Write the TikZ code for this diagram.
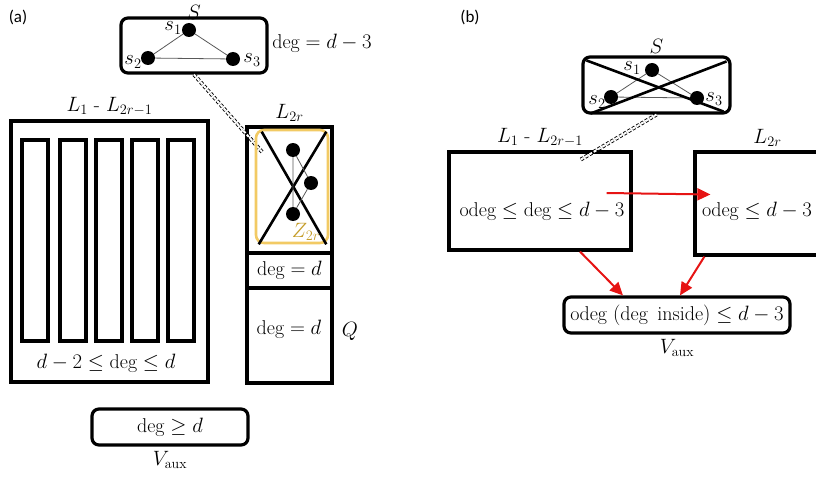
\documentclass[tikz,border=0pt]{standalone}
\usepackage{amsmath, amssymb}
\usepackage{fontspec}
\newfontfamily\panelfont{Carlito}
\usepackage{xcolor}
\definecolor{zgold}{RGB}{242,202,100}
\definecolor{zlabel}{RGB}{196,156,40}
\definecolor{flowred}{RGB}{230,20,20}
\usepackage{tikz}
\usetikzlibrary{arrows.meta}
\usetikzlibrary{positioning,fit}

\tikzset{
    frame/.style={draw, line width=3.2pt, inner sep=0pt},
    roundframe/.style={frame, rounded corners=7pt},
    vertex/.style={circle, fill, inner sep=0pt, minimum size=14pt},
    thinedge/.style={line width=0.8pt, black!65},
    cross/.style={line width=2.6pt},
    link/.style={double, double distance=2pt, line width=0.9pt, dash pattern=on 3pt off 2pt},
    flow/.style={-{Triangle[length=13pt,width=12pt]}, draw=flowred, line width=2pt},
    tag/.style={font=\panelfont\fontsize{17}{20}\selectfont}
}

\begin{document}
\begin{tikzpicture}[x=1pt,y=-1pt,font=\fontsize{20}{24}\selectfont]
    \useasboundingbox (0,0) rectangle (816,484);

    % (a)
    \node[tag] (tagA) at (18,17) {(a)};
    \node[roundframe, fit={(121,18) (267,73)}] (Sa) {};
    \node[above=-5pt of Sa, inner sep=2pt] (SaLab) {$S$};
    \node (degS) at (322,43) {$\deg = d - 3$};
    \node[vertex] (s1a) at (189,30) {};
    \node[vertex] (s2a) at (148,58) {};
    \node[vertex] (s3a) at (233,59) {};
    \node (s1aLab) at (173,28) {$s_1$};
    \node (s2aLab) at (133,62) {$s_2$};
    \node (s3aLab) at (252,60) {$s_3$};
    \draw[thinedge] (s1a) -- (s2a) -- (s3a) -- (s1a);

    \node[frame, fit={(11,121) (208,382)}] (La) {};
    \node[above=0pt of La] (LaLab) {$L_1$ - $L_{2r-1}$};
    \foreach \i/\xl in {1/22,2/60,3/96,4/132,5/168}
        \node[frame, fit={(\xl,140) (\xl+26,341)}] (col\i) {};
    \node (rangeA) at (106,363) {$d - 2 \leq \deg \leq d$};

    \node[frame, fit={(247,127) (332,253)}] (Ra) {};
    \node[frame, fit={(247,253) (332,288)}, label=center:{$\deg = d$}] (Rmid) {};
    \node[frame, fit={(247,288) (332,383)}] (Rlow) {};
    \node (RlowLab) at (289,329) {$\deg = d$};
    \node[above=0pt of Ra] (RaLab) {$L_{2r}$};
    \node (Qlab) at (350,331) {$Q$};

    \coordinate (la) at (263,153);
    \draw[link] (Sa.south) -- (la);

    \node[draw=zgold, line width=2.6pt, rounded corners=8pt, inner sep=0pt, fit={(256,130) (328,243)}] (Za) {};
    \draw[cross] ([shift={(7,3)}]Za.north west) -- ([shift={(-3,0)}]Za.south east);
    \draw[cross] ([shift={(-3,3)}]Za.north east) -- ([shift={(4,0)}]Za.south west);
    \node[vertex] (z1) at (293,150) {};
    \node[vertex] (z2) at (311,183) {};
    \node[vertex] (z3) at (293,214) {};
    \draw[thinedge] (z1) -- (z3) (z1) -- (z2) -- (z3);
    \node[text=zlabel] (ZaLab) at (306,232) {$Z_{2r}$};

    \node[roundframe, fit={(92,409) (248,445)}, label=center:{$\deg \geq d$}] (Va) {};
    \node[below=1pt of Va] (VaLab) {$V_{\mathrm{aux}}$};

    % (b)
    \node[tag] (tagB) at (470,17) {(b)};
    \node[roundframe, fit={(583,57) (730,113)}] (Sb) {};
    \node[above=-2pt of Sb] (SbLab) {$S$};
    \node[vertex] (s1b) at (652,70) {};
    \node[vertex] (s2b) at (611,97) {};
    \node[vertex] (s3b) at (697,98) {};
    \node (s1bLab) at (632,68) {$s_1$};
    \node (s2bLab) at (597,102) {$s_2$};
    \node (s3bLab) at (714,99) {$s_3$};
    \draw[thinedge] (s1b) -- (s2b) -- (s3b) -- (s1b);
    \draw[cross] ([shift={(5,5)}]Sb.north west) -- ([shift={(-8,-3)}]Sb.south east);
    \draw[cross] ([shift={(9,-1)}]Sb.south west) -- ([shift={(-5,6)}]Sb.north east);

    \node[frame, fit={(449,152) (631,250)}] (Lb) {};
    \node[above=0pt of Lb] (LbLab) {$L_1$ - $L_{2r-1}$};
    \node (LbTxt) at (542,211) {$\mathrm{odeg} \leq \deg \leq d - 3$};
    \node[frame, fit={(695,152) (840,255)}] (Rb) {};
    \node[above=0pt of Rb] (RbLab) {$L_{2r}$};
    \node (RbTxt) at (757,211) {$\mathrm{odeg} \leq d - 3$};

    \coordinate (lb) at (580,160);
    \draw[link] (Sb.south) -- (lb);

    \node[roundframe, fit={(564,297) (790,333)}, label=center:{$\mathrm{odeg}\ (\deg\ \mathrm{inside}) \leq d - 3$}] (Vb) {};
    \node[below=1pt of Vb] (VbLab) {$V_{\mathrm{aux}}$};

    \draw[flow] ([shift={(-26,-8)}]Lb.east) -- ([shift={(17,-9)}]Rb.west);
    \draw[flow] ([xshift=40pt]Lb.south) -- ([xshift=-54pt]Vb.north);
    \draw[flow] ([xshift=11pt]Rb.south west) -- ([xshift=3pt]Vb.north);
\end{tikzpicture}
\end{document}
